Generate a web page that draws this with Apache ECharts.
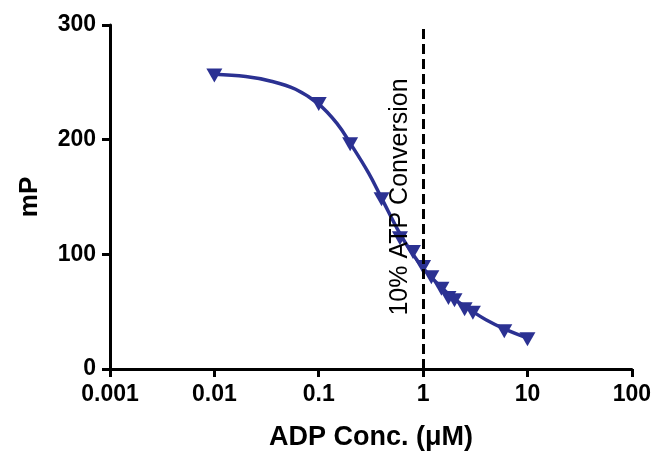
<!DOCTYPE html>
<html>
<head>
<meta charset="utf-8">
<script src="https://cdn.jsdelivr.net/npm/echarts@6/dist/echarts.min.js"></script>
<style>
html,body{margin:0;padding:0;background:#fff;}
#chart{width:654px;height:456px;}
</style>
</head>
<body>
<div id="chart"></div>
<script>
// Measured points (ADP concentration in µM, mP)
const concentrations = [0.01, 0.1, 0.2, 0.4, 0.6, 0.8, 1, 1.2, 1.5, 1.75, 2, 2.5, 3, 6, 10];
const mPValues = [256, 231, 196, 148, 114, 102, 89, 80, 70, 62, 60, 52, 49, 33, 26];

// Fitted curve
const fitConc = [0.01, 0.02, 0.035, 0.06, 0.1, 0.15, 0.2, 0.3, 0.4, 0.6, 0.8, 1, 1.5, 2, 3, 4, 6, 10];
const fitMP = [257, 255, 251, 244, 231, 214, 197, 171, 149, 118, 100, 88, 71, 61, 50, 43, 35, 27];

// Axis ticks
const xTicks = [0.001, 0.01, 0.1, 1, 10, 100];
const yTicks = [0, 100, 200, 300];
const markerConc = 1;
const markerLabel = '10% ATP Conversion';

const blue = '#2B3192';
const font = 'Liberation Sans, Arial, sans-serif';

const chart = echarts.init(document.getElementById('chart'));
chart.setOption({
  animation: false,
  backgroundColor: '#fff',
  grid: { left: 110, right: 22, top: 25, bottom: 84, containLabel: false },
  xAxis: {
    type: 'log',
    logBase: 10,
    min: xTicks[0],
    max: xTicks[xTicks.length - 1],
    name: 'ADP Conc. (\u03bcM)',
    nameLocation: 'middle',
    nameGap: 55,
    nameTextStyle: { fontFamily: font, fontWeight: 'bold', fontSize: 27, color: '#000' },
    axisLine: { lineStyle: { color: '#000', width: 3 } },
    axisTick: { show: true, inside: false, length: 8, lineStyle: { color: '#000', width: 3 } },
    minorTick: { show: false },
    splitLine: { show: false },
    axisLabel: {
      margin: 14,
      fontFamily: font, fontWeight: 'bold', fontSize: 23, color: '#000',
      formatter: function (v) { return String(+v.toPrecision(3)); }
    }
  },
  yAxis: {
    type: 'value',
    min: yTicks[0],
    max: yTicks[yTicks.length - 1],
    interval: 100,
    name: 'mP',
    nameLocation: 'middle',
    nameGap: 67,
    nameTextStyle: { fontFamily: font, fontWeight: 'bold', fontSize: 26, color: '#000' },
    axisLine: { show: true, lineStyle: { color: '#000', width: 3 } },
    axisTick: { show: true, inside: false, length: 8, lineStyle: { color: '#000', width: 3 } },
    splitLine: { show: false },
    axisLabel: { margin: 14, fontFamily: font, fontWeight: 'bold', fontSize: 23, color: '#000' }
  },
  series: [
    {
      type: 'line',
      data: fitConc.map((c, i) => [c, fitMP[i]]),
      smooth: 0.4,
      showSymbol: false,
      symbol: 'none',
      lineStyle: { color: blue, width: 3.5 },
      z: 2,
      markLine: {
        silent: true,
        symbol: ['none', 'none'],
        lineStyle: { color: '#000', width: 3, type: [10, 5] },
        label: {
          show: true,
          formatter: markerLabel,
          position: 'insideMiddleTop',
          distance: 10,
          fontFamily: font,
          fontSize: 25,
          color: '#000'
        },
        data: [{ xAxis: markerConc }]
      }
    },
    {
      type: 'scatter',
      data: concentrations.map((c, i) => [c, mPValues[i]]),
      symbol: 'triangle',
      symbolRotate: 180,
      symbolSize: [16, 14],
      itemStyle: { color: blue, opacity: 1 },
      z: 3
    }
  ]
});
</script>
</body>
</html>
